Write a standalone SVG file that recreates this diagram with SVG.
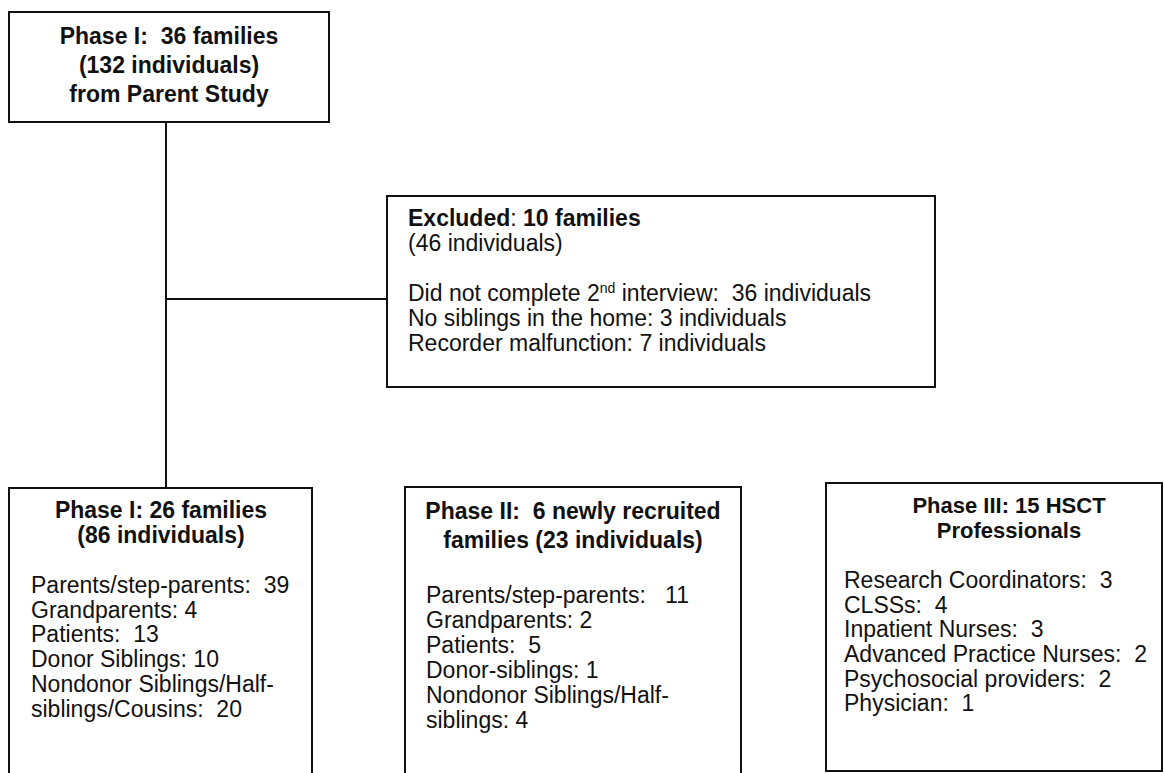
<svg xmlns="http://www.w3.org/2000/svg" width="1164" height="773" viewBox="0 0 1164 773">
<style>
.box{fill:#fff;stroke:#111;stroke-width:2}
.ln{stroke:#111;stroke-width:2;fill:none}
text{font-family:"Liberation Sans",Arial,sans-serif;font-size:23px;fill:#111;white-space:pre}
.b{font-weight:bold}
.c{text-anchor:middle}
.t3{font-size:22px}
</style>
<rect width="1164" height="773" fill="#fff"/>
<g id="connectors">
<line class="ln" x1="166" y1="122" x2="166" y2="488"/>
<line class="ln" x1="166" y1="299" x2="387" y2="299"/>
</g>
<g id="phase1-start">
<rect class="box" x="9" y="12" width="320" height="110"/>
<text class="b c" x="169" y="44" xml:space="preserve">Phase I:  36 families</text>
<text class="b c" x="169" y="73">(132 individuals)</text>
<text class="b c" x="169" y="102">from Parent Study</text>
</g>
<g id="excluded">
<rect class="box" x="387" y="196" width="548" height="191"/>
<text x="408" y="226"><tspan class="b">Excluded</tspan>: <tspan class="b">10 families</tspan></text>
<text x="408" y="251">(46 individuals)</text>
<text x="408" y="301" xml:space="preserve">Did not complete 2<tspan font-size="14" dy="-8">nd</tspan><tspan dy="8"> interview:  36 individuals</tspan></text>
<text x="408" y="326">No siblings in the home: 3 individuals</text>
<text x="408" y="351">Recorder malfunction: 7 individuals</text>
</g>
<g id="phase1">
<path class="box" d="M9,775 V488 H312 V775"/>
<text class="b c" x="161" y="518">Phase I: 26 families</text>
<text class="b c" x="161" y="543">(86 individuals)</text>
<text x="31" y="593" xml:space="preserve">Parents/step-parents:  39</text>
<text x="31" y="618">Grandparents: 4</text>
<text x="31" y="642" xml:space="preserve">Patients:  13</text>
<text x="31" y="667">Donor Siblings: 10</text>
<text x="31" y="692">Nondonor Siblings/Half-</text>
<text x="31" y="717" xml:space="preserve">siblings/Cousins:  20</text>
</g>
<g id="phase2">
<path class="box" d="M405,775 V487 H741 V775"/>
<text class="b c" x="573" y="519" xml:space="preserve">Phase II:  6 newly recruited</text>
<text class="b c" x="573" y="548">families (23 individuals)</text>
<text x="426" y="603" xml:space="preserve">Parents/step-parents:   11</text>
<text x="426" y="628">Grandparents: 2</text>
<text x="426" y="653" xml:space="preserve">Patients:  5</text>
<text x="426" y="678">Donor-siblings: 1</text>
<text x="426" y="703">Nondonor Siblings/Half-</text>
<text x="426" y="728">siblings: 4</text>
</g>
<g id="phase3">
<rect class="box" x="826" y="483" width="336" height="288"/>
<text class="b c t3" x="1009" y="513">Phase III: 15 HSCT</text>
<text class="b c t3" x="1009" y="538">Professionals</text>
<text x="844" y="588" xml:space="preserve">Research Coordinators:  3</text>
<text x="844" y="613" xml:space="preserve">CLSSs:  4</text>
<text x="844" y="637" xml:space="preserve">Inpatient Nurses:  3</text>
<text x="844" y="662" xml:space="preserve">Advanced Practice Nurses:  2</text>
<text x="844" y="687" xml:space="preserve">Psychosocial providers:  2</text>
<text x="844" y="711" xml:space="preserve">Physician:  1</text>
</g>
</svg>
